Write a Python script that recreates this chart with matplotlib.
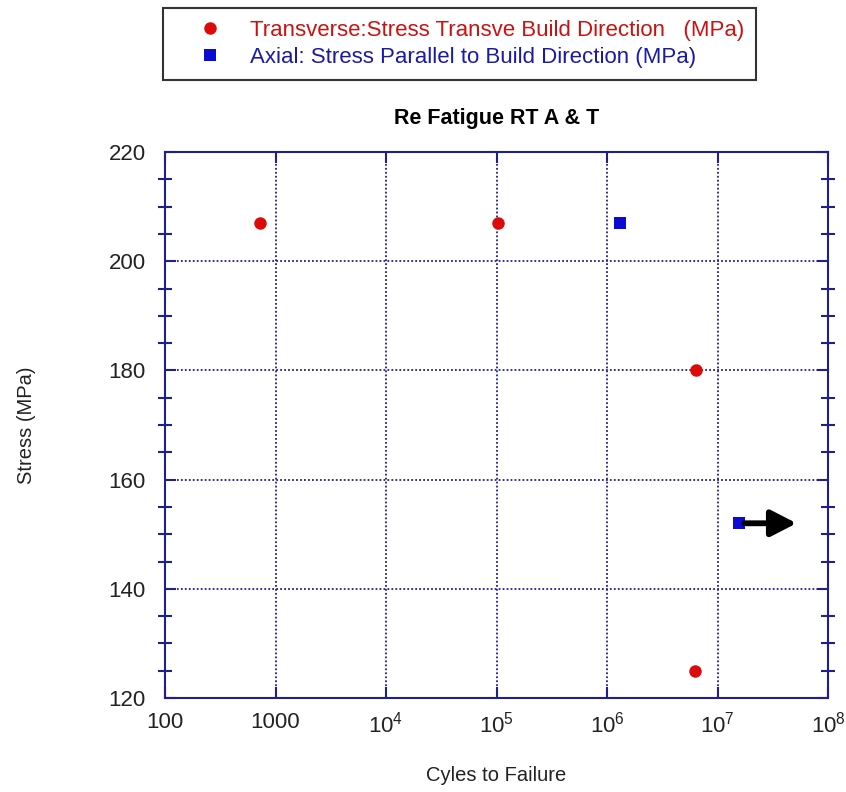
import numpy as np
import matplotlib
matplotlib.use("Agg")
import matplotlib.pyplot as plt
from matplotlib.lines import Line2D
from matplotlib.ticker import FixedLocator, MultipleLocator

plt.rcParams['font.family'] = ['Liberation Sans', 'DejaVu Sans']
plt.rcParams['mathtext.fontset'] = 'custom'
plt.rcParams['mathtext.rm'] = 'Liberation Sans'
plt.rcParams['mathtext.it'] = 'Liberation Sans'

# -----------------------------
# DATA
# -----------------------------
transverse_cycles = [730, 1.03e5, 6.4e6, 6.3e6]
transverse_stress = [207, 207, 180, 125]

axial_cycles = [1.3e6, 1.55e7]
axial_stress = [207, 152]

# run-out arrow on the last axial point
runout_start = 1.75e7
runout_end = 5.2e7
runout_stress = 152

x_ticks = [100, 1000, 1e4, 1e5, 1e6, 1e7, 1e8]
x_tick_labels = ['100', '1000', r'$10^4$', r'$10^5$', r'$10^6$', r'$10^7$', r'$10^8$']
y_ticks = [120, 140, 160, 180, 200, 220]

NAVY = '#1f1f8f'
RED = '#dd0a0a'
BLUE = '#0a0ad2'
TXT = '#222222'

fig = plt.figure(figsize=(8.46, 7.92), dpi=100)
ax = fig.add_axes([165/846, 1 - 698/792, (828 - 165)/846, (698 - 152)/792])

ax.plot(transverse_cycles, transverse_stress, 'o', color=RED, markersize=9,
        markeredgewidth=0, zorder=5)
ax.plot(axial_cycles, axial_stress, 's', color=BLUE, markersize=8.5,
        markeredgewidth=0, zorder=5)
ax.annotate('', xy=(runout_end, runout_stress), xytext=(runout_start, runout_stress),
            arrowprops=dict(arrowstyle='-|>,head_length=0.7,head_width=0.36',
                            mutation_scale=22, color='black', lw=4.2,
                            shrinkA=0, shrinkB=0), zorder=6)

ax.set_xscale('log')
ax.set_xlim(100, 1e8)
ax.set_ylim(120, 220)
ax.xaxis.set_major_locator(FixedLocator(x_ticks))
ax.xaxis.set_minor_locator(FixedLocator([]))
ax.set_xticklabels(x_tick_labels)
ax.yaxis.set_major_locator(FixedLocator(y_ticks))
ax.yaxis.set_minor_locator(MultipleLocator(5))

for s in ax.spines.values():
    s.set_color(NAVY)
    s.set_linewidth(1.5)

ax.grid(True, which='major', color=NAVY, linestyle=(0, (1, 1.2)), linewidth=1.3)
ax.tick_params(which='major', direction='in', length=8, width=1.5, color=NAVY,
               top=True, right=True, labelsize=16, labelcolor=TXT)
ax.tick_params(axis='y', which='major', pad=14)
ax.tick_params(axis='x', which='major', pad=10)
ax.tick_params(which='minor', direction='inout', length=10, width=1.5, color=NAVY,
               left=True, right=True)

ax.set_xlabel('Cyles to Failure', fontsize=14.5, color=TXT, labelpad=20)
ax.set_ylabel('Stress (MPa)', fontsize=14.5, color=TXT, labelpad=52)
ax.set_title('Re Fatigue RT A & T', fontsize=15.5, fontweight='bold', color='black', pad=20)

handles = [
    Line2D([], [], linestyle='none', marker='o', color=RED, markersize=9, markeredgewidth=0),
    Line2D([], [], linestyle='none', marker='s', color=BLUE, markersize=8, markeredgewidth=0),
]
labels = ['Transverse:Stress Transve Build Direction   (MPa)',
          'Axial: Stress Parallel to Build Direction (MPa)']
leg = fig.legend(handles, labels, loc='upper left', bbox_to_anchor=(163/846, 1 - 8/792),
                 fontsize=16, frameon=True, fancybox=False, edgecolor='black',
                 borderpad=0.55, handlelength=3.1, handletextpad=0.25, labelspacing=0.25,
                 borderaxespad=0)
leg.get_frame().set_linewidth(1.5)
leg.texts[0].set_color('#cc1111')
leg.texts[1].set_color('#1a1aaa')

fig.savefig('out.png', dpi=100)
